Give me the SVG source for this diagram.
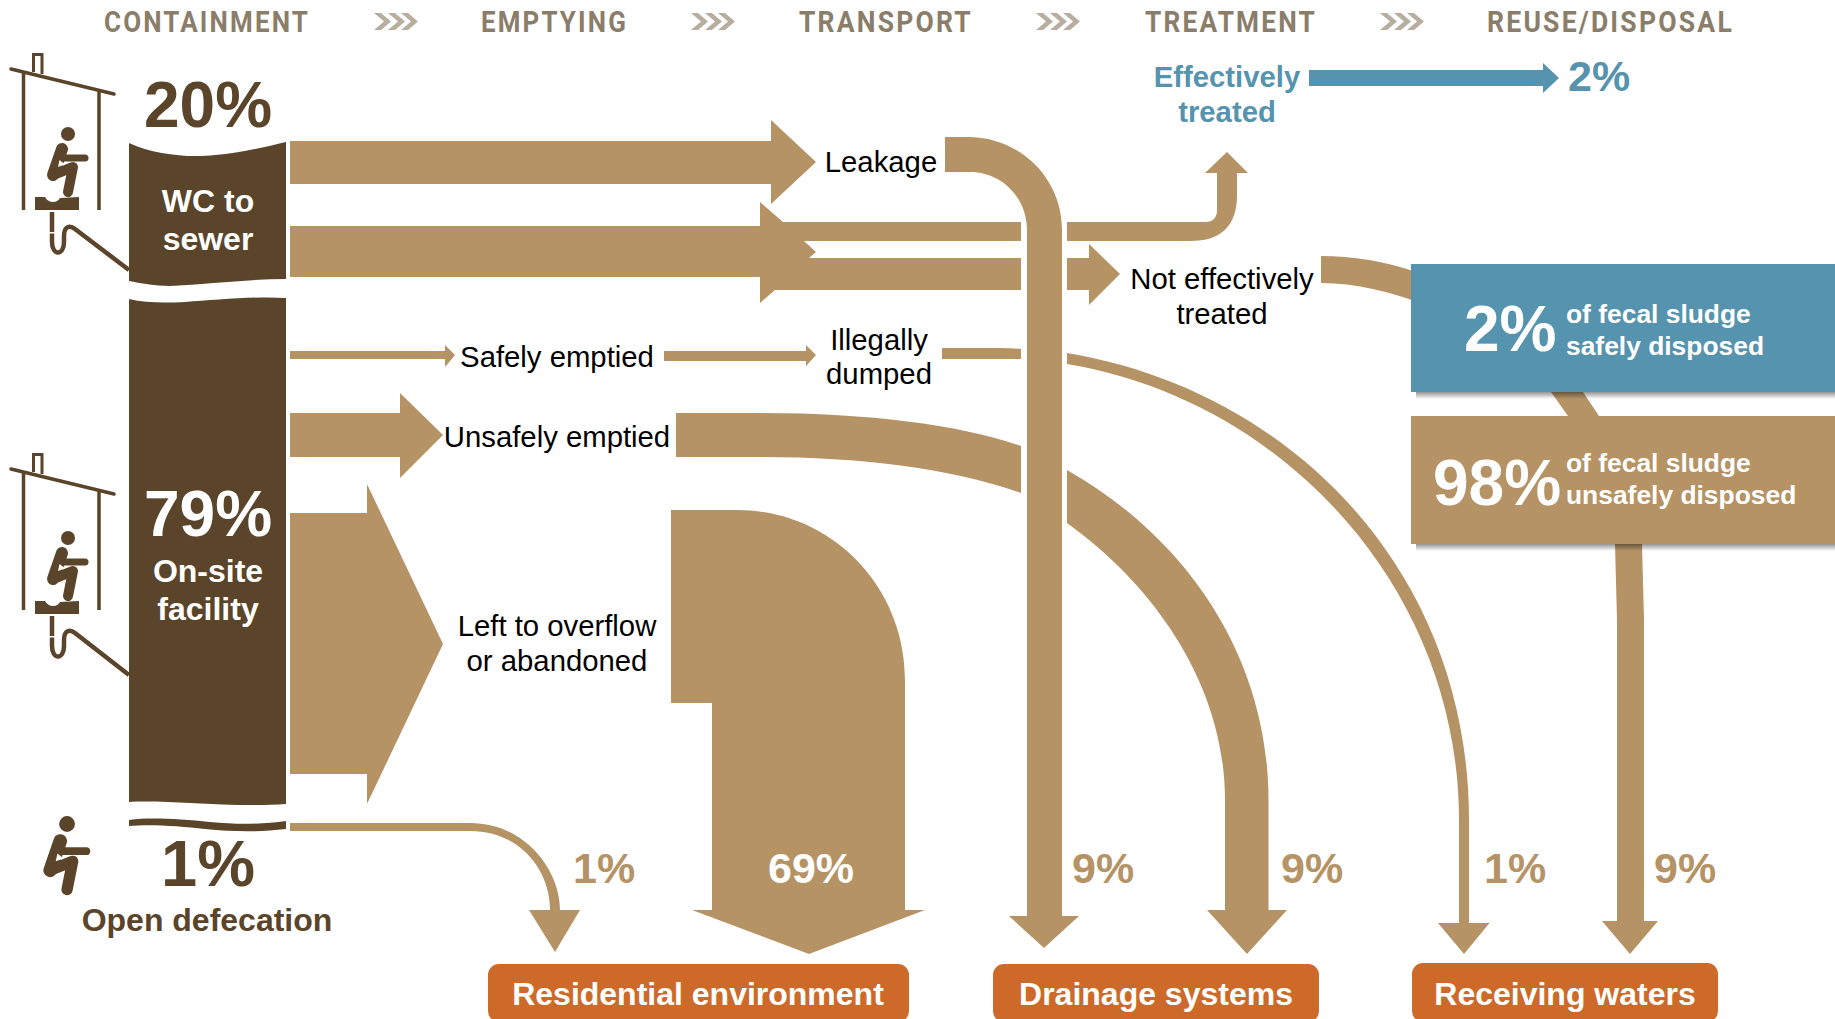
<svg xmlns="http://www.w3.org/2000/svg" xmlns:xlink="http://www.w3.org/1999/xlink" width="1835" height="1019" viewBox="0 0 1835 1019">
<style>
text{font-family:"Liberation Sans",Arial,sans-serif}
.hd{font-family:Roboto,"Liberation Sans",sans-serif;font-weight:700;font-size:30px;fill:#8a7d6a;letter-spacing:2.500px}
.chev{fill:#b8ae9f}
.flow{fill:#b59365}
.lab{font-size:29.300px;fill:#000;text-anchor:middle}
.pct{font-size:43px;font-weight:700;fill:#b59365}
.col{fill:#5a452b}
.w{fill:#fff;font-weight:700}
.br{fill:#5a452b;font-weight:700;text-anchor:middle}
.dest{fill:#cd6a29}
.dt{fill:#fff;font-weight:700;font-size:32px;text-anchor:middle}
.blue{fill:#5593ae}
.ln{fill:none;stroke:#5a452b}
.sh{fill:url(#shadow)}
</style>
<defs>
<linearGradient id="shadow" x1="0" y1="0" x2="0" y2="1"><stop offset="0" stop-color="#000" stop-opacity=".42"/><stop offset="1" stop-color="#000" stop-opacity="0"/></linearGradient>
<g id="chevs"><path class="chev" d="M0 0h7l10 8.500-10 8.500h-7l10-8.500z"/><path class="chev" d="M14 0h7l10 8.500-10 8.500h-7l10-8.500z"/><path class="chev" d="M27 0h7l10 8.500-10 8.500h-7l10-8.500z"/></g>
<g id="person"><circle cx="68" cy="134" r="7" class="col"/><path class="ln" stroke-width="12" stroke-linecap="round" stroke-linejoin="round" d="M62 149 L53 175"/><path class="ln" stroke-width="10" stroke-linecap="round" stroke-linejoin="round" d="M53 175 L73 167 L68 192"/><path class="ln" stroke-width="7" stroke-linecap="round" d="M64 158H85"/><path d="M59.500 160l-1.500 7 7-2.500z" fill="#fff"/></g>
<g id="hut"><path class="ln" stroke-width="3.500" stroke-linecap="round" d="M11 69L114 94"/><path class="ln" stroke-width="3" d="M33.500 72V54.500H42V74"/><path class="ln" stroke-width="3.500" d="M23.500 72V210M99 90V210"/></g>
<g id="seat"><use xlink:href="#person" href="#person"/><path class="col" d="M35 197h10c3 6 12 7 15 1l19-1v13H35z"/></g>
</defs>
<g id="headers">
<text class="hd" x="104" y="32" textLength="206" lengthAdjust="spacingAndGlyphs">CONTAINMENT</text>
<text class="hd" x="481" y="32" textLength="147" lengthAdjust="spacingAndGlyphs">EMPTYING</text>
<text class="hd" x="799" y="32" textLength="174" lengthAdjust="spacingAndGlyphs">TRANSPORT</text>
<text class="hd" x="1145" y="32" textLength="172" lengthAdjust="spacingAndGlyphs">TREATMENT</text>
<text class="hd" x="1487" y="32" textLength="247" lengthAdjust="spacingAndGlyphs">REUSE/DISPOSAL</text>
<use xlink:href="#chevs" href="#chevs" x="374" y="13"/>
<use xlink:href="#chevs" href="#chevs" x="691" y="13"/>
<use xlink:href="#chevs" href="#chevs" x="1036" y="13"/>
<use xlink:href="#chevs" href="#chevs" x="1380" y="13"/>
</g>
<g id="connectors">
<path class="flow" d="M290 141H771V120L816 162 771 204V184H290Z"/>
<path class="flow" d="M290 226H760V202L783 222H1021V241H804L816 252 809 258H1021V290H775L760 303V277H290Z"/>
<path class="flow" d="M290 351H445V345L455 355 445 367V359H290Z"/>
<path class="flow" d="M664 351H806V345L816 355 806 366V361H664Z"/>
<path class="flow" d="M290 413H400V393L443 435 400 478V457H290Z"/>
<path class="flow" d="M290 513H367V484L443 644 367 804V774H290Z"/>
<path class="flow" d="M290 823H470C525 823 560 870 560 910V910H580L555 952 529 910H550C550 870 520 831 470 831H290Z"/>
<path class="flow" d="M671 510H737C830 510 905 585 905 680V910H925L809 954 692 910H712V703H671Z"/>
<path class="flow" d="M945 137H968C1020 137 1062 178 1062 230V916H1079L1044 948 1009 916H1027V230C1027 198 1002 172 970 172H945Z"/>
<path class="flow" d="M676 413H760C870 413 960 425 1021 446V493C950 468 860 457 760 457H676Z"/>
<path class="flow" d="M1067 470C1190 540 1268.500 660 1268.500 800V910H1287L1247 954 1207 910H1225V800C1225 690 1160 590 1067 523Z"/>
<path class="flow" d="M942 348H1000Q1012 348 1021 349V359Q1010 359 1000 359H942Z"/>
<path class="flow" d="M1067 353C1290 390 1469 570 1469 820V923H1489.500L1464 954 1438 923H1459V820C1459 590 1285 400 1067 364Z"/>
<path class="flow" d="M1067 222H1205Q1217 222 1217 210V173H1205L1227 152 1248 173H1237V195Q1237 241 1190 241H1067Z"/>
<path class="flow" d="M1067 258H1089V244L1120 274 1089 305V290H1067Z"/>
<path class="flow" d="M1321 256C1400 256 1500 290 1583 392L1599 416H1568L1551 392C1500 330 1400 283 1321 283Z"/>
<path class="flow" d="M1615 544H1642L1644 620V921H1658L1630 954 1602 921H1617V620Z"/>
<path class="blue" d="M1309 70H1543V63L1559 78 1543 93V86H1309Z"/>
</g>
<g id="house-wc"><use xlink:href="#hut" href="#hut"/><use xlink:href="#seat" href="#seat"/><path class="ln" stroke-width="4.500" d="M52 212V242c0 14 12 14 12 0V236c0-10 6-11 11-7L129 270"/><path fill="#fff" d="M48 232h8v1.500h-8z"/></g>
<g id="house-onsite"><use xlink:href="#hut" href="#hut" y="400"/><use xlink:href="#seat" href="#seat" y="404"/><path class="ln" stroke-width="4.500" d="M52 616V646c0 14 12 14 12 0V640c0-10 6-11 11-7L129 675"/><path fill="#fff" d="M48 636h8v1.500h-8z"/></g>
<g id="node-wc">
<path class="col" d="M129 143C155 155 190 158 215 155C240 153 265 147 286 142V279C250 279 210 284 170 286C155 286 140 283 129 281Z"/>
<text class="br" x="208" y="127" font-size="64">20%</text>
<text class="w" x="208" y="212" font-size="32" text-anchor="middle">WC to</text>
<text class="w" x="208" y="250" font-size="32" text-anchor="middle">sewer</text>
</g>
<g id="node-onsite">
<path class="col" d="M129 299C145 303 165 303 185 302C215 300 255 296 286 298V804C260 806 225 805 190 803C170 802 145 801 129 802Z"/>
<text class="w" x="208" y="536" font-size="64" text-anchor="middle">79%</text>
<text class="w" x="208" y="582" font-size="32" text-anchor="middle">On-site</text>
<text class="w" x="208" y="620" font-size="32" text-anchor="middle">facility</text>
</g>
<g id="node-open">
<use xlink:href="#person" href="#person" transform="translate(-9.800 672.600) scale(1.130)"/>
<path class="col" d="M129 820C150 817 180 819 210 822C240 825 265 824 286 821V829C260 832 235 832 205 829C180 826 150 824 129 826Z"/>
<text class="br" x="208" y="886" font-size="65">1%</text>
<text class="br" x="207" y="931" font-size="32">Open defecation</text>
</g>
<g id="labels">
<text class="lab" x="881" y="172">Leakage</text>
<text class="lab" x="557" y="367">Safely emptied</text>
<text class="lab" x="557" y="447">Unsafely emptied</text>
<text class="lab" x="879" y="350">Illegally</text>
<text class="lab" x="879" y="384">dumped</text>
<text class="lab" x="557" y="636">Left to overflow</text>
<text class="lab" x="557" y="671">or abandoned</text>
<text class="lab" x="1222" y="289">Not effectively</text>
<text class="lab" x="1222" y="324">treated</text>
<text x="1227" y="87" font-size="29.300" font-weight="700" fill="#5593ae" text-anchor="middle">Effectively</text>
<text x="1227" y="122" font-size="29.300" font-weight="700" fill="#5593ae" text-anchor="middle">treated</text>
<text x="1568" y="91" font-size="43" font-weight="700" fill="#5593ae">2%</text>
<text class="pct" x="573" y="883">1%</text>
<text x="768" y="883" font-size="43" font-weight="700" fill="#fff">69%</text>
<text class="pct" x="1072" y="883">9%</text>
<text class="pct" x="1281" y="883">9%</text>
<text class="pct" x="1484" y="883">1%</text>
<text class="pct" x="1654" y="883">9%</text>
</g>
<g id="node-safe">
<rect class="sh" x="1416" y="392" width="419" height="7"/>
<rect class="blue" x="1411" y="264" width="424" height="128"/>
<text class="w" x="1464" y="351" font-size="64">2%</text>
<text class="w" x="1566" y="323" font-size="26.400">of fecal sludge</text>
<text class="w" x="1566" y="355" font-size="26.400">safely disposed</text>
</g>
<g id="node-unsafe">
<rect class="sh" x="1416" y="544" width="419" height="7"/>
<rect class="flow" x="1411" y="416" width="424" height="128"/>
<text class="w" x="1433" y="505" font-size="64">98%</text>
<text class="w" x="1566" y="472" font-size="26.400">of fecal sludge</text>
<text class="w" x="1566" y="504" font-size="26.400">unsafely disposed</text>
</g>
<g id="dest-res"><rect class="dest" x="488" y="964" width="421" height="58" rx="11"/><text class="dt" x="698" y="1005">Residential environment</text></g>
<g id="dest-drain"><rect class="dest" x="993" y="964" width="326" height="58" rx="11"/><text class="dt" x="1156" y="1005">Drainage systems</text></g>
<g id="dest-water"><rect class="dest" x="1412" y="963" width="306" height="59" rx="11"/><text class="dt" x="1565" y="1005">Receiving waters</text></g>
</svg>
